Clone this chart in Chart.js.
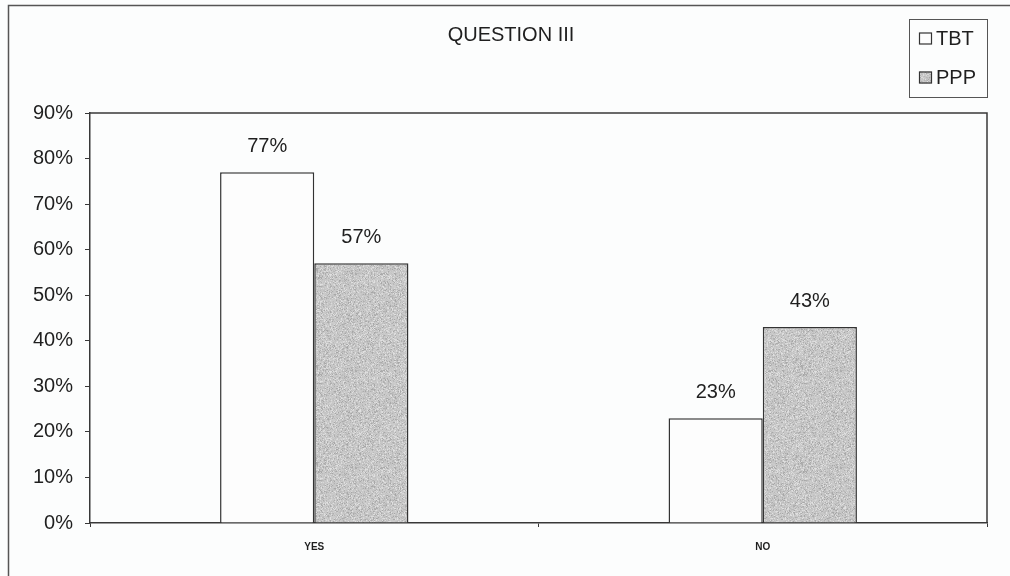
<!DOCTYPE html>
<html>
<head>
<meta charset="utf-8">
<title>QUESTION III</title>
<script src="https://cdn.jsdelivr.net/npm/chart.js@4/dist/chart.umd.min.js"></script>
<style>
  html, body { margin: 0; padding: 0; background: #fcfdfd; }
  canvas { display: block; }
</style>
</head>
<body>
<canvas id="chart" width="1010" height="576"></canvas>
<script>
// Answers to question III, share of respondents per group
const categories = ['YES', 'NO'];
const seriesNames = ['TBT', 'PPP'];
const tbtValues = [77, 23];
const pppValues = [57, 43];
const chartTitle = 'QUESTION III';
const yMin = 0;
const yMax = 90;
const yStep = 10;

const FONT = '"Liberation Sans", Arial, sans-serif';
const INK = '#1f1f1f';
const LINE = '#383838';

// Grainy grey fill for the PPP bars (fixed pseudo-random speckle so every render is identical)
function makeSpeckle() {
  const size = 97;
  const c = document.createElement('canvas');
  c.width = size; c.height = size;
  const g = c.getContext('2d');
  const img = g.createImageData(size, size);
  let s = 20240611;
  const next = () => (s = (Math.imul(s, 1664525) + 1013904223) >>> 0);
  for (let i = 0; i < size * size; i++) {
    const r = next() % 1000;
    let v = 198;
    if (r < 120) v = 165 + (next() % 15);
    else if (r < 260) v = 182 + (next() % 10);
    else if (r < 420) v = 214 + (next() % 12);
    else v = 194 + (next() % 12);
    img.data[i * 4] = v;
    img.data[i * 4 + 1] = v;
    img.data[i * 4 + 2] = v;
    img.data[i * 4 + 3] = 255;
  }
  g.putImageData(img, 0, 0);
  return g.createPattern(c, 'repeat');
}
const pppFill = makeSpeckle();

const chromePlugin = {
  id: 'chrome',
  beforeDraw(chart) {
    const ctx = chart.ctx;
    ctx.save();
    ctx.fillStyle = '#fcfdfd';
    ctx.fillRect(0, 0, chart.width, chart.height);
    ctx.restore();
  },
  afterDraw(chart) {
    const ctx = chart.ctx;
    const a = chart.chartArea;
    ctx.save();

    // outer frame (left and top edges fall inside the page)
    ctx.strokeStyle = '#555';
    ctx.lineWidth = 1.5;
    ctx.beginPath();
    ctx.moveTo(8.5, chart.height + 2);
    ctx.lineTo(8.5, 5.5);
    ctx.lineTo(chart.width + 2, 5.5);
    ctx.stroke();

    // plot area top and right edges
    ctx.strokeStyle = LINE;
    ctx.lineWidth = 1.5;
    ctx.beginPath();
    ctx.moveTo(a.left, a.top);
    ctx.lineTo(a.right, a.top);
    ctx.lineTo(a.right, a.bottom);
    ctx.stroke();

    // title
    ctx.fillStyle = INK;
    ctx.font = '20px ' + FONT;
    ctx.textAlign = 'center';
    ctx.textBaseline = 'middle';
    ctx.fillText(chartTitle, 511, 35);

    // value labels above each bar
    ctx.font = '20px ' + FONT;
    ctx.textAlign = 'center';
    ctx.textBaseline = 'alphabetic';
    chart.data.datasets.forEach((ds, di) => {
      const meta = chart.getDatasetMeta(di);
      meta.data.forEach((bar, i) => {
        ctx.fillText(ds.data[i] + '%', bar.x, bar.y - 20);
      });
    });

    // legend box
    const lx = 909, ly = 19, lw = 78, lh = 78;
    ctx.strokeStyle = '#555';
    ctx.lineWidth = 1;
    ctx.strokeRect(lx + 0.5, ly + 0.5, lw, lh);
    const rowsY = [38.5, 77.5];
    chart.data.datasets.forEach((ds, di) => {
      const cy = rowsY[di];
      ctx.fillStyle = ds.backgroundColor;
      ctx.fillRect(919, cy - 6, 13, 12);
      ctx.strokeStyle = '#333';
      ctx.lineWidth = 1.2;
      ctx.strokeRect(919.5, cy - 5.5, 12, 11);
      ctx.fillStyle = INK;
      ctx.font = '20px ' + FONT;
      ctx.textAlign = 'left';
      ctx.textBaseline = 'middle';
      ctx.fillText(ds.label, 936, cy + 1);
    });

    ctx.restore();
  }
};

new Chart(document.getElementById('chart'), {
  type: 'bar',
  data: {
    labels: categories,
    datasets: [
      {
        label: seriesNames[0],
        data: tbtValues,
        backgroundColor: '#fdfdfd',
        borderColor: '#333',
        borderWidth: 1.5
      },
      {
        label: seriesNames[1],
        data: pppValues,
        backgroundColor: pppFill,
        borderColor: '#333',
        borderWidth: 1.5
      }
    ]
  },
  options: {
    responsive: false,
    animation: false,
    devicePixelRatio: 1,
    layout: { padding: { top: 113, right: 23, bottom: 0, left: 0 } },
    datasets: { bar: { categoryPercentage: 0.42, barPercentage: 1.0 } },
    plugins: {
      legend: { display: false },
      title: { display: false },
      tooltip: { enabled: false }
    },
    scales: {
      x: {
        offset: true,
        grid: { drawOnChartArea: false, drawTicks: true, tickLength: 4, color: LINE, offset: true },
        border: { color: LINE, width: 1.5 },
        ticks: { color: INK, padding: 14, font: { family: FONT, size: 10, weight: 'bold' } },
        afterFit(scale) { scale.height = 53; }
      },
      y: {
        min: yMin,
        max: yMax,
        grid: { drawOnChartArea: false, drawTicks: true, tickLength: 5, color: LINE },
        border: { color: LINE, width: 1.5 },
        ticks: {
          stepSize: yStep,
          color: INK,
          padding: 12,
          font: { family: FONT, size: 20 },
          callback: v => v + '%'
        },
        afterFit(scale) { scale.width = 90; }
      }
    }
  },
  plugins: [chromePlugin]
});
</script>
</body>
</html>
